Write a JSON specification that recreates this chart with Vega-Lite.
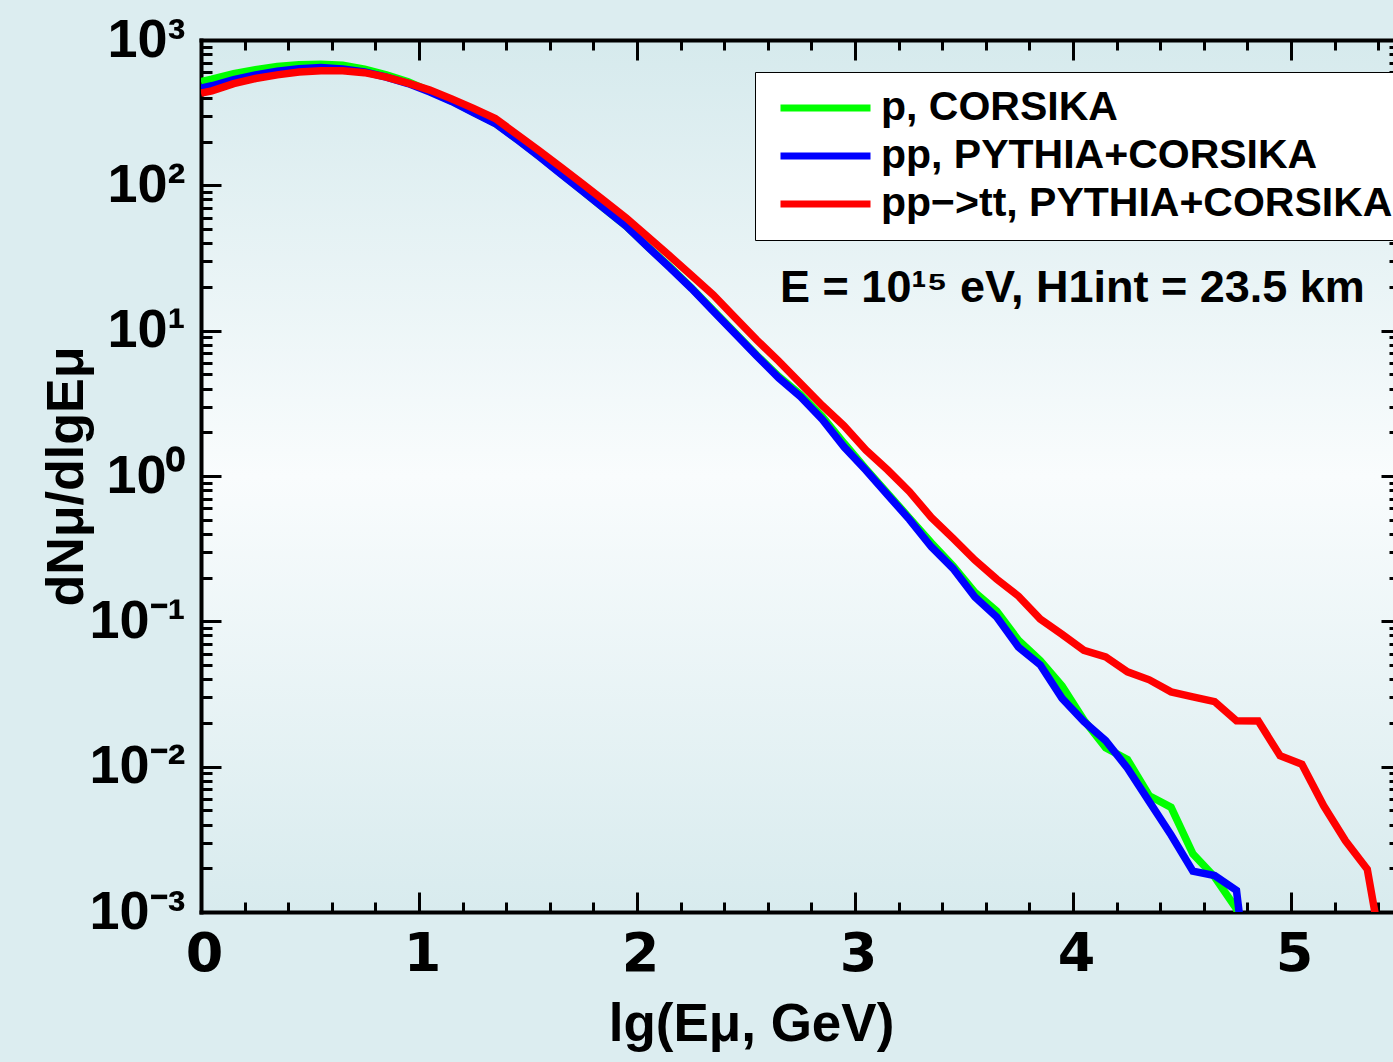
{
  "$schema": "https://vega.github.io/schema/vega-lite/v6.json",
  "autosize": {"type": "none"},
  "width": 1192,
  "height": 872,
  "padding": {"left": 201, "top": 40, "right": 0, "bottom": 150},
  "background": "#dcedf0",
  "config": {
    "view": {"stroke": null, "fill": {"gradient": "linear", "x1": 0, "y1": 0, "x2": 0, "y2": 1, "stops": [{"offset": 0, "color": "#d6eaed"}, {"offset": 0.5, "color": "#f9fcfd"}, {"offset": 1, "color": "#d8ebee"}]}},
    "font": "Liberation Sans, Arial, sans-serif",
    "axis": {"domainColor": "black", "tickColor": "black", "domainWidth": 4, "tickWidth": 3, "grid": false, "labelColor": "black", "titleColor": "black", "labelFont": "Liberation Sans, Arial, sans-serif", "titleFont": "Liberation Sans, Arial, sans-serif", "labelFontWeight": "bold", "titleFontWeight": "bold", "zindex": 1, "domainCap": "square", "labelFlush": false, "labelOverlap": false, "labelBound": false}
  },
  "data": {"values": [
    {"series": "p, CORSIKA", "lgE": 0, "dN": 517.6},
    {"series": "p, CORSIKA", "lgE": 0.05, "dN": 537},
    {"series": "p, CORSIKA", "lgE": 0.15, "dN": 586.1},
    {"series": "p, CORSIKA", "lgE": 0.25, "dN": 623.7},
    {"series": "p, CORSIKA", "lgE": 0.35, "dN": 657.7},
    {"series": "p, CORSIKA", "lgE": 0.45, "dN": 676.1},
    {"series": "p, CORSIKA", "lgE": 0.55, "dN": 682.3},
    {"series": "p, CORSIKA", "lgE": 0.65, "dN": 671.4},
    {"series": "p, CORSIKA", "lgE": 0.75, "dN": 631},
    {"series": "p, CORSIKA", "lgE": 0.85, "dN": 575.4},
    {"series": "p, CORSIKA", "lgE": 0.95, "dN": 515.2},
    {"series": "p, CORSIKA", "lgE": 1.05, "dN": 444.6},
    {"series": "p, CORSIKA", "lgE": 1.15, "dN": 380.2},
    {"series": "p, CORSIKA", "lgE": 1.25, "dN": 318.4},
    {"series": "p, CORSIKA", "lgE": 1.35, "dN": 267.3},
    {"series": "p, CORSIKA", "lgE": 1.45, "dN": 208},
    {"series": "p, CORSIKA", "lgE": 1.55, "dN": 159.6},
    {"series": "p, CORSIKA", "lgE": 1.65, "dN": 121.1},
    {"series": "p, CORSIKA", "lgE": 1.75, "dN": 91.8},
    {"series": "p, CORSIKA", "lgE": 1.85, "dN": 69.2},
    {"series": "p, CORSIKA", "lgE": 1.95, "dN": 52.5},
    {"series": "p, CORSIKA", "lgE": 2.05, "dN": 37.8},
    {"series": "p, CORSIKA", "lgE": 2.15, "dN": 27.5},
    {"series": "p, CORSIKA", "lgE": 2.25, "dN": 19.7},
    {"series": "p, CORSIKA", "lgE": 2.35, "dN": 13.8},
    {"series": "p, CORSIKA", "lgE": 2.45, "dN": 9.66},
    {"series": "p, CORSIKA", "lgE": 2.55, "dN": 6.76},
    {"series": "p, CORSIKA", "lgE": 2.65, "dN": 4.84},
    {"series": "p, CORSIKA", "lgE": 2.75, "dN": 3.63},
    {"series": "p, CORSIKA", "lgE": 2.85, "dN": 2.57},
    {"series": "p, CORSIKA", "lgE": 2.95, "dN": 1.68},
    {"series": "p, CORSIKA", "lgE": 3.05, "dN": 1.12},
    {"series": "p, CORSIKA", "lgE": 3.15, "dN": 0.759},
    {"series": "p, CORSIKA", "lgE": 3.25, "dN": 0.513},
    {"series": "p, CORSIKA", "lgE": 3.35, "dN": 0.347},
    {"series": "p, CORSIKA", "lgE": 3.45, "dN": 0.24},
    {"series": "p, CORSIKA", "lgE": 3.55, "dN": 0.158},
    {"series": "p, CORSIKA", "lgE": 3.65, "dN": 0.1175},
    {"series": "p, CORSIKA", "lgE": 3.75, "dN": 0.0741},
    {"series": "p, CORSIKA", "lgE": 3.85, "dN": 0.0537},
    {"series": "p, CORSIKA", "lgE": 3.95, "dN": 0.0359},
    {"series": "p, CORSIKA", "lgE": 4.05, "dN": 0.0209},
    {"series": "p, CORSIKA", "lgE": 4.15, "dN": 0.0135},
    {"series": "p, CORSIKA", "lgE": 4.25, "dN": 0.0112},
    {"series": "p, CORSIKA", "lgE": 4.35, "dN": 0.00631},
    {"series": "p, CORSIKA", "lgE": 4.45, "dN": 0.00525},
    {"series": "p, CORSIKA", "lgE": 4.55, "dN": 0.00251},
    {"series": "p, CORSIKA", "lgE": 4.65, "dN": 0.00174},
    {"series": "p, CORSIKA", "lgE": 4.75, "dN": 0.00105},
    {"series": "p, CORSIKA", "lgE": 4.85, "dN": 0.000251},
    {"series": "pp, PYTHIA+CORSIKA", "lgE": 0, "dN": 466.7},
    {"series": "pp, PYTHIA+CORSIKA", "lgE": 0.05, "dN": 484.2},
    {"series": "pp, PYTHIA+CORSIKA", "lgE": 0.15, "dN": 534.6},
    {"series": "pp, PYTHIA+CORSIKA", "lgE": 0.25, "dN": 575.4},
    {"series": "pp, PYTHIA+CORSIKA", "lgE": 0.35, "dN": 609.5},
    {"series": "pp, PYTHIA+CORSIKA", "lgE": 0.45, "dN": 635.3},
    {"series": "pp, PYTHIA+CORSIKA", "lgE": 0.55, "dN": 645.7},
    {"series": "pp, PYTHIA+CORSIKA", "lgE": 0.65, "dN": 631},
    {"series": "pp, PYTHIA+CORSIKA", "lgE": 0.75, "dN": 602.6},
    {"series": "pp, PYTHIA+CORSIKA", "lgE": 0.85, "dN": 555.9},
    {"series": "pp, PYTHIA+CORSIKA", "lgE": 0.95, "dN": 501.2},
    {"series": "pp, PYTHIA+CORSIKA", "lgE": 1.05, "dN": 438.5},
    {"series": "pp, PYTHIA+CORSIKA", "lgE": 1.15, "dN": 377.6},
    {"series": "pp, PYTHIA+CORSIKA", "lgE": 1.25, "dN": 316.2},
    {"series": "pp, PYTHIA+CORSIKA", "lgE": 1.35, "dN": 266.1},
    {"series": "pp, PYTHIA+CORSIKA", "lgE": 1.45, "dN": 206.5},
    {"series": "pp, PYTHIA+CORSIKA", "lgE": 1.55, "dN": 158.5},
    {"series": "pp, PYTHIA+CORSIKA", "lgE": 1.65, "dN": 120.2},
    {"series": "pp, PYTHIA+CORSIKA", "lgE": 1.75, "dN": 91.2},
    {"series": "pp, PYTHIA+CORSIKA", "lgE": 1.85, "dN": 69.2},
    {"series": "pp, PYTHIA+CORSIKA", "lgE": 1.95, "dN": 52.5},
    {"series": "pp, PYTHIA+CORSIKA", "lgE": 2.05, "dN": 37.6},
    {"series": "pp, PYTHIA+CORSIKA", "lgE": 2.15, "dN": 27.2},
    {"series": "pp, PYTHIA+CORSIKA", "lgE": 2.25, "dN": 19.5},
    {"series": "pp, PYTHIA+CORSIKA", "lgE": 2.35, "dN": 13.6},
    {"series": "pp, PYTHIA+CORSIKA", "lgE": 2.45, "dN": 9.55},
    {"series": "pp, PYTHIA+CORSIKA", "lgE": 2.55, "dN": 6.68},
    {"series": "pp, PYTHIA+CORSIKA", "lgE": 2.65, "dN": 4.73},
    {"series": "pp, PYTHIA+CORSIKA", "lgE": 2.75, "dN": 3.51},
    {"series": "pp, PYTHIA+CORSIKA", "lgE": 2.85, "dN": 2.45},
    {"series": "pp, PYTHIA+CORSIKA", "lgE": 2.95, "dN": 1.585},
    {"series": "pp, PYTHIA+CORSIKA", "lgE": 3.05, "dN": 1.096},
    {"series": "pp, PYTHIA+CORSIKA", "lgE": 3.15, "dN": 0.741},
    {"series": "pp, PYTHIA+CORSIKA", "lgE": 3.25, "dN": 0.501},
    {"series": "pp, PYTHIA+CORSIKA", "lgE": 3.35, "dN": 0.326},
    {"series": "pp, PYTHIA+CORSIKA", "lgE": 3.45, "dN": 0.231},
    {"series": "pp, PYTHIA+CORSIKA", "lgE": 3.55, "dN": 0.147},
    {"series": "pp, PYTHIA+CORSIKA", "lgE": 3.65, "dN": 0.107},
    {"series": "pp, PYTHIA+CORSIKA", "lgE": 3.75, "dN": 0.0665},
    {"series": "pp, PYTHIA+CORSIKA", "lgE": 3.85, "dN": 0.0501},
    {"series": "pp, PYTHIA+CORSIKA", "lgE": 3.95, "dN": 0.0295},
    {"series": "pp, PYTHIA+CORSIKA", "lgE": 4.05, "dN": 0.0204},
    {"series": "pp, PYTHIA+CORSIKA", "lgE": 4.15, "dN": 0.0151},
    {"series": "pp, PYTHIA+CORSIKA", "lgE": 4.25, "dN": 0.00977},
    {"series": "pp, PYTHIA+CORSIKA", "lgE": 4.35, "dN": 0.00575},
    {"series": "pp, PYTHIA+CORSIKA", "lgE": 4.45, "dN": 0.00339},
    {"series": "pp, PYTHIA+CORSIKA", "lgE": 4.55, "dN": 0.00191},
    {"series": "pp, PYTHIA+CORSIKA", "lgE": 4.65, "dN": 0.00178},
    {"series": "pp, PYTHIA+CORSIKA", "lgE": 4.75, "dN": 0.00141},
    {"series": "pp, PYTHIA+CORSIKA", "lgE": 4.85, "dN": 0.0000794},
    {"series": "pp−>tt, PYTHIA+CORSIKA", "lgE": 0, "dN": 430.5},
    {"series": "pp−>tt, PYTHIA+CORSIKA", "lgE": 0.05, "dN": 446.7},
    {"series": "pp−>tt, PYTHIA+CORSIKA", "lgE": 0.15, "dN": 501.2},
    {"series": "pp−>tt, PYTHIA+CORSIKA", "lgE": 0.25, "dN": 543.3},
    {"series": "pp−>tt, PYTHIA+CORSIKA", "lgE": 0.35, "dN": 575.4},
    {"series": "pp−>tt, PYTHIA+CORSIKA", "lgE": 0.45, "dN": 602.6},
    {"series": "pp−>tt, PYTHIA+CORSIKA", "lgE": 0.55, "dN": 613.8},
    {"series": "pp−>tt, PYTHIA+CORSIKA", "lgE": 0.65, "dN": 613.8},
    {"series": "pp−>tt, PYTHIA+CORSIKA", "lgE": 0.75, "dN": 595.7},
    {"series": "pp−>tt, PYTHIA+CORSIKA", "lgE": 0.85, "dN": 555.9},
    {"series": "pp−>tt, PYTHIA+CORSIKA", "lgE": 0.95, "dN": 504.7},
    {"series": "pp−>tt, PYTHIA+CORSIKA", "lgE": 1.05, "dN": 451.9},
    {"series": "pp−>tt, PYTHIA+CORSIKA", "lgE": 1.15, "dN": 393.6},
    {"series": "pp−>tt, PYTHIA+CORSIKA", "lgE": 1.25, "dN": 338.8},
    {"series": "pp−>tt, PYTHIA+CORSIKA", "lgE": 1.35, "dN": 288.4},
    {"series": "pp−>tt, PYTHIA+CORSIKA", "lgE": 1.45, "dN": 223.9},
    {"series": "pp−>tt, PYTHIA+CORSIKA", "lgE": 1.55, "dN": 173.8},
    {"series": "pp−>tt, PYTHIA+CORSIKA", "lgE": 1.65, "dN": 133.7},
    {"series": "pp−>tt, PYTHIA+CORSIKA", "lgE": 1.75, "dN": 102.6},
    {"series": "pp−>tt, PYTHIA+CORSIKA", "lgE": 1.85, "dN": 78.3},
    {"series": "pp−>tt, PYTHIA+CORSIKA", "lgE": 1.95, "dN": 59.8},
    {"series": "pp−>tt, PYTHIA+CORSIKA", "lgE": 2.05, "dN": 44.2},
    {"series": "pp−>tt, PYTHIA+CORSIKA", "lgE": 2.15, "dN": 32.7},
    {"series": "pp−>tt, PYTHIA+CORSIKA", "lgE": 2.25, "dN": 24},
    {"series": "pp−>tt, PYTHIA+CORSIKA", "lgE": 2.35, "dN": 17.6},
    {"series": "pp−>tt, PYTHIA+CORSIKA", "lgE": 2.45, "dN": 12.3},
    {"series": "pp−>tt, PYTHIA+CORSIKA", "lgE": 2.55, "dN": 8.61},
    {"series": "pp−>tt, PYTHIA+CORSIKA", "lgE": 2.65, "dN": 6.17},
    {"series": "pp−>tt, PYTHIA+CORSIKA", "lgE": 2.75, "dN": 4.34},
    {"series": "pp−>tt, PYTHIA+CORSIKA", "lgE": 2.85, "dN": 3.05},
    {"series": "pp−>tt, PYTHIA+CORSIKA", "lgE": 2.95, "dN": 2.21},
    {"series": "pp−>tt, PYTHIA+CORSIKA", "lgE": 3.05, "dN": 1.51},
    {"series": "pp−>tt, PYTHIA+CORSIKA", "lgE": 3.15, "dN": 1.1},
    {"series": "pp−>tt, PYTHIA+CORSIKA", "lgE": 3.25, "dN": 0.78},
    {"series": "pp−>tt, PYTHIA+CORSIKA", "lgE": 3.35, "dN": 0.519},
    {"series": "pp−>tt, PYTHIA+CORSIKA", "lgE": 3.45, "dN": 0.372},
    {"series": "pp−>tt, PYTHIA+CORSIKA", "lgE": 3.55, "dN": 0.264},
    {"series": "pp−>tt, PYTHIA+CORSIKA", "lgE": 3.65, "dN": 0.195},
    {"series": "pp−>tt, PYTHIA+CORSIKA", "lgE": 3.75, "dN": 0.149},
    {"series": "pp−>tt, PYTHIA+CORSIKA", "lgE": 3.85, "dN": 0.1035},
    {"series": "pp−>tt, PYTHIA+CORSIKA", "lgE": 3.95, "dN": 0.0813},
    {"series": "pp−>tt, PYTHIA+CORSIKA", "lgE": 4.05, "dN": 0.0631},
    {"series": "pp−>tt, PYTHIA+CORSIKA", "lgE": 4.15, "dN": 0.0569},
    {"series": "pp−>tt, PYTHIA+CORSIKA", "lgE": 4.25, "dN": 0.0449},
    {"series": "pp−>tt, PYTHIA+CORSIKA", "lgE": 4.35, "dN": 0.0396},
    {"series": "pp−>tt, PYTHIA+CORSIKA", "lgE": 4.45, "dN": 0.0327},
    {"series": "pp−>tt, PYTHIA+CORSIKA", "lgE": 4.55, "dN": 0.0302},
    {"series": "pp−>tt, PYTHIA+CORSIKA", "lgE": 4.65, "dN": 0.028},
    {"series": "pp−>tt, PYTHIA+CORSIKA", "lgE": 4.75, "dN": 0.0207},
    {"series": "pp−>tt, PYTHIA+CORSIKA", "lgE": 4.85, "dN": 0.0206},
    {"series": "pp−>tt, PYTHIA+CORSIKA", "lgE": 4.95, "dN": 0.0119},
    {"series": "pp−>tt, PYTHIA+CORSIKA", "lgE": 5.05, "dN": 0.0104},
    {"series": "pp−>tt, PYTHIA+CORSIKA", "lgE": 5.15, "dN": 0.00538},
    {"series": "pp−>tt, PYTHIA+CORSIKA", "lgE": 5.25, "dN": 0.00309},
    {"series": "pp−>tt, PYTHIA+CORSIKA", "lgE": 5.35, "dN": 0.00197},
    {"series": "pp−>tt, PYTHIA+CORSIKA", "lgE": 5.45, "dN": 0.00028}
  ]},
  "resolve": {"axis": {"x": "independent", "y": "independent"}},
  "layer": [
    {
      "mark": {"type": "line", "strokeWidth": 7.5, "clip": true},
      "encoding": {
        "x": {"field": "lgE", "type": "quantitative", "scale": {"domain": [0, 5.468], "nice": false, "zero": false},
          "axis": {"orient": "bottom", "values": [0, 1, 2, 3, 4, 5], "format": "d", "tickSize": -20, "labelPadding": 35, "labelOffset": 3, "labelBaseline": "top", "labelFontSize": 54, "labelFont": "DejaVu Sans, sans-serif",
            "title": "lg(Eμ, GeV)", "titleFontSize": 53, "titleX": 550, "titleY": 128, "titleAlign": "center", "titleBaseline": "alphabetic", "titleAngle": 0}},
        "y": {"field": "dN", "type": "quantitative", "scale": {"type": "log", "domain": [0.001, 1000], "nice": false},
          "axis": {"orient": "left", "values": [0.001, 0.01, 0.1, 1, 10, 100, 1000], "labelExpr": "['10⁻³','10⁻²','10⁻¹','10⁰','10¹','10²','10³'][round(log(datum.value)/LN10)+3]", "tickSize": -20, "labelPadding": 36, "labelBaseline": "middle", "labelAlign": "right", "labelFontSize": 54,
            "title": "dNμ/dlgEμ", "titleFontSize": 52, "titleAngle": 270, "titleX": -119, "titleY": 436, "titleAlign": "center", "titleBaseline": "alphabetic"}},
        "color": {"field": "series", "type": "nominal", "sort": null,
          "scale": {"domain": ["p, CORSIKA", "pp, PYTHIA+CORSIKA", "pp−>tt, PYTHIA+CORSIKA"], "range": ["#00ff00", "#0000ff", "#ff0000"]},
          "legend": {"orient": "none", "legendX": 554, "legendY": 32, "title": null, "fillColor": "white", "strokeColor": "black", "padding": 14, "symbolType": "stroke", "symbolSize": 8100, "symbolStrokeWidth": 7, "symbolOffset": 8, "labelOffset": 7, "labelFont": "Liberation Sans, Arial, sans-serif", "labelFontSize": 41, "labelFontWeight": "bold", "labelColor": "black", "labelLimit": 2000, "clipHeight": 44, "rowPadding": 4}}
      }
    },
    {
      "mark": {"type": "point", "opacity": 0},
      "encoding": {
        "x": {"field": "lgE", "type": "quantitative", "scale": {"domain": [0, 5.468], "nice": false, "zero": false},
          "axis": {"orient": "bottom", "values": [0.2, 0.4, 0.6, 0.8, 1.2, 1.4, 1.6, 1.8, 2.2, 2.4, 2.6, 2.8, 3.2, 3.4, 3.6, 3.8, 4.2, 4.4, 4.6, 4.8, 5.2, 5.4], "tickSize": -10, "labels": false, "domain": false, "title": null}},
        "y": {"field": "dN", "type": "quantitative", "scale": {"type": "log", "domain": [0.001, 1000], "nice": false},
          "axis": {"orient": "left", "values": [0.002, 0.003, 0.004, 0.005, 0.006, 0.007, 0.008, 0.009, 0.02, 0.03, 0.04, 0.05, 0.06, 0.07, 0.08, 0.09, 0.2, 0.3, 0.4, 0.5, 0.6, 0.7, 0.8, 0.9, 2, 3, 4, 5, 6, 7, 8, 9, 20, 30, 40, 50, 60, 70, 80, 90, 200, 300, 400, 500, 600, 700, 800, 900], "tickSize": -11, "labels": false, "domain": false, "title": null}}
      }
    },
    {
      "mark": {"type": "point", "opacity": 0},
      "encoding": {
        "x": {"field": "lgE", "type": "quantitative", "scale": {"domain": [0, 5.468], "nice": false, "zero": false},
          "axis": {"orient": "top", "values": [0, 1, 2, 3, 4, 5], "tickSize": -20, "labels": false, "domain": true, "title": null}},
        "y": {"field": "dN", "type": "quantitative", "scale": {"type": "log", "domain": [0.001, 1000], "nice": false},
          "axis": {"orient": "right", "values": [0.001, 0.01, 0.1, 1, 10, 100, 1000], "tickSize": -12, "labels": false, "domain": false, "title": null}}
      }
    },
    {
      "mark": {"type": "point", "opacity": 0},
      "encoding": {
        "x": {"field": "lgE", "type": "quantitative", "scale": {"domain": [0, 5.468], "nice": false, "zero": false},
          "axis": {"orient": "top", "values": [0.2, 0.4, 0.6, 0.8, 1.2, 1.4, 1.6, 1.8, 2.2, 2.4, 2.6, 2.8, 3.2, 3.4, 3.6, 3.8, 4.2, 4.4, 4.6, 4.8, 5.2, 5.4], "tickSize": -10, "labels": false, "domain": false, "title": null}},
        "y": {"field": "dN", "type": "quantitative", "scale": {"type": "log", "domain": [0.001, 1000], "nice": false},
          "axis": {"orient": "right", "values": [0.002, 0.003, 0.004, 0.005, 0.006, 0.007, 0.008, 0.009, 0.02, 0.03, 0.04, 0.05, 0.06, 0.07, 0.08, 0.09, 0.2, 0.3, 0.4, 0.5, 0.6, 0.7, 0.8, 0.9, 2, 3, 4, 5, 6, 7, 8, 9, 20, 30, 40, 50, 60, 70, 80, 90, 200, 300, 400, 500, 600, 700, 800, 900], "tickSize": -4, "labels": false, "domain": false, "title": null}}
      }
    },
    {
      "data": {"values": [{"note": "E = 10¹⁵ eV, H1int = 23.5 km"}]},
      "mark": {"type": "text", "align": "right", "baseline": "alphabetic", "font": "Liberation Sans, Arial, sans-serif", "fontSize": 45, "fontWeight": "bold", "color": "black"},
      "encoding": {
        "x": {"datum": 5.339, "type": "quantitative", "scale": {"domain": [0, 5.468], "nice": false, "zero": false}, "axis": null},
        "y": {"datum": 15.7, "type": "quantitative", "scale": {"type": "log", "domain": [0.001, 1000], "nice": false}, "axis": null},
        "text": {"field": "note"}
      }
    }
  ]
}
